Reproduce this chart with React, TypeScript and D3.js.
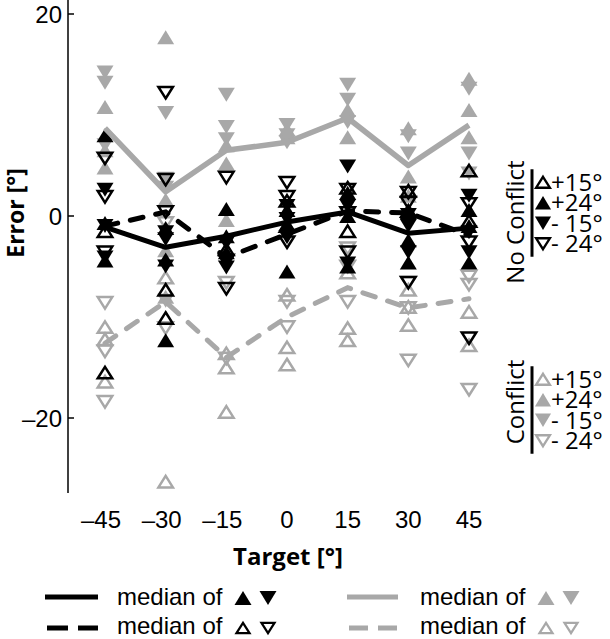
import React from "react";
import * as d3 from "d3";

const targets = [-45, -30, -15, 0, 15, 30, 45];
const yTicks = [-20, 0, 20];

// No conflict (black)
const ncOpenUp = [[-15.5, -1.5], [-7.3, -10.1], [-3.3], [-1.0, 1.5], [2.8, -1.5], [2.5, 0.5], [4.5, -0.5]];
const ncFilledUp = [[8.0, -0.7, -4.4], [-12.3, -4.3, -1.2], [0.7, -2.0, -3.6], [-5.5, -0.8, 0.6], [-5.0, 2.3, 0.0], [-4.6, -2.4, 0.4], [-4.6, -1.0, 0.6]];
const ncFilledDown = [[2.6, -1.0, -4.1], [-1.6, -2.3, -5.0], [-2.7, -5.1, -4.6], [-0.3, -2.1, 1.0], [4.9, -4.7, 1.0], [-3.6, -1.0, 0.1], [2.0, -3.6, -1.6]];
const ncOpenDown = [[5.7, 1.9, -3.6], [12.2, 3.6, 0.4], [3.8, -7.2, -4.4], [3.3, 1.9, -2.6], [2.6, -3.6, 0.3], [2.3, 1.3, -6.6], [-12.1, 1.2, -2.6]];

// Conflict (grey)
const cFilledUp = [[10.8, 6.5, 4.8], [17.7, 1.6, -3.4, -8.0], [7.0, 5.2, -0.4], [7.8, 8.6], [10.5, 7.8], [8.7, 3.9, 2.0], [13.6, 10.5, 7.8]];
const cFilledDown = [[14.2, 13.2, 7.0], [10.2, 3.7, 2.8, -8.4], [12.0, 8.8, 7.6], [9.0, 7.3, 8.0], [13.0, 11.5, 9.3], [7.9, 6.2], [12.6, 6.2, 4.2]];
const cOpenUp = [[-11.0, -12.2, -16.4], [-6.1, -26.3], [-13.6, -15.0, -19.4], [-7.8, -13.0, -14.7], [-5.6, -11.1, -12.3], [-7.3, -10.8, -9.0], [-9.5, -12.8]];
const cOpenDown = [[-8.6, -13.4, -18.4], [-0.7, -11.1], [-6.6, -14.1], [-8.5, -11.0], [-3.2, -8.5, -5.0], [-6.6, -9.1, -14.3], [-6.0, -6.8, -17.2]];

// Medians
const medBlackFilled = [-1.1, -3.1, -2.0, -0.6, 0.4, -1.7, -1.2];
const medBlackOpen = [-1.0, 0.4, -4.1, -1.8, 0.5, 0.3, -1.9];
const medGreyFilled = [8.7, 2.4, 6.5, 7.3, 9.7, 5.0, 9.0];
const medGreyOpen = [-12.6, -8.5, -14.0, -10.0, -7.1, -9.1, -8.2];

const legendRows = ["+15°", "+24°", "- 15°", "- 24°"];

const BLACK = "#000";
const GREY = "#a8a8a8";

function tri(up: boolean, w: number, h: number) {
  const d = up ? 1 : -1;
  return `M0,${(-h / 2) * d}L${w / 2},${(h / 2) * d}L${-w / 2},${(h / 2) * d}Z`;
}

function Marker({ x, y, up, filled, color, scale = 1 }: any) {
  if (filled) {
    return <path transform={`translate(${x},${y})`} d={tri(up, 17 * scale, 14 * scale)} fill={color} />;
  }
  return (
    <path
      transform={`translate(${x},${y})`}
      d={tri(up, 14.5 * scale, 11.5 * scale)}
      fill="none"
      stroke={color}
      strokeWidth={2.5 * scale}
      strokeLinejoin="miter"
    />
  );
}

export default function App() {
  const x = d3.scaleLinear().domain([-45, 45]).range([105, 469]);
  const y = d3.scaleLinear().domain([0, -20]).range([216, 418]);
  const yTop = y.invert(0);
  const yBot = y.invert(493);

  const line = d3
    .line<number>()
    .x((_, i) => x(targets[i]))
    .y((v) => y(v));

  const series = [
    { data: cOpenUp, up: true, filled: false, color: GREY },
    { data: cOpenDown, up: false, filled: false, color: GREY },
    { data: cFilledUp, up: true, filled: true, color: GREY },
    { data: cFilledDown, up: false, filled: true, color: GREY },
    { data: ncOpenUp, up: true, filled: false, color: BLACK },
    { data: ncOpenDown, up: false, filled: false, color: BLACK },
    { data: ncFilledUp, up: true, filled: true, color: BLACK },
    { data: ncFilledDown, up: false, filled: true, color: BLACK },
  ];

  const legendKinds = [
    { up: true, filled: false },
    { up: true, filled: true },
    { up: false, filled: true },
    { up: false, filled: false },
  ];

  const sans = "'Liberation Sans', Arial, sans-serif";
  const myriad = "'Open Sans', 'Noto Sans', sans-serif";

  const legendBlock = (title: string, color: string, cy: number, titleCy: number, key: string) => {
    const rowGap = 20.5;
    const rows = legendRows.map((r, i) => cy + (i - 1.5) * rowGap);
    return (
      <g key={key}>
        <text
          transform={`translate(524,${titleCy}) rotate(-90)`}
          textAnchor="middle"
          fontFamily={myriad}
          fontSize={24}
          fill="#000"
        >
          {title}
        </text>
        <line x1={532} x2={532} y1={rows[0] - 13} y2={rows[3] + 13} stroke="#000" strokeWidth={3} />
        {legendKinds.map((k, i) => (
          <g key={i}>
            <Marker x={543} y={rows[i]} up={k.up} filled={k.filled} color={color} scale={0.95} />
            <text x={551} y={rows[i] + 8.5} fontFamily={myriad} fontSize={24} fill="#000">
              {legendRows[i]}
            </text>
          </g>
        ))}
      </g>
    );
  };

  return (
    <svg
      width={610}
      height={639}
      style={{ position: "absolute", left: 0, top: 0, background: "#fff" }}
    >
      <rect width={610} height={639} fill="#fff" />
      {/* y axis */}
      <line x1={68} x2={68} y1={y(yTop)} y2={y(yBot)} stroke="#000" strokeWidth={1.5} />
      {yTicks.map((t) => (
        <g key={t}>
          <line x1={68} x2={74} y1={y(t)} y2={y(t)} stroke="#000" strokeWidth={1.5} />
          <text x={62} y={y(t) + 8.5} textAnchor="end" fontFamily={sans} fontSize={24} fill="#000">
            {t < 0 ? `–${Math.abs(t)}` : `${t}`}
          </text>
        </g>
      ))}
      {targets.map((t) => (
        <text key={t} x={x(t) - (t < 0 ? 4 : 0)} y={528} textAnchor="middle" fontFamily={sans} fontSize={24} fill="#000">
          {t < 0 ? `–${Math.abs(t)}` : `${t}`}
        </text>
      ))}
      <text x={288} y={565} textAnchor="middle" fontFamily={myriad} fontWeight="bold" fontSize={24} fill="#000">
        Target [°]
      </text>
      <text
        transform={`translate(24,213) rotate(-90)`}
        textAnchor="middle"
        fontFamily={myriad}
        fontWeight="bold"
        fontSize={23}
        fill="#000"
      >
        Error [°]
      </text>

      {/* markers */}
      {series.map((s, si) => (
        <g key={si}>
          {s.data.map((vals, ti) =>
            vals.map((v, vi) => (
              <Marker key={`${ti}-${vi}`} x={x(targets[ti])} y={y(v)} up={s.up} filled={s.filled} color={s.color} />
            ))
          )}
        </g>
      ))}

      {/* median lines */}
      <path d={line(medGreyOpen) || ""} fill="none" stroke={GREY} strokeWidth={5} strokeDasharray="13 13" strokeLinecap="round" />
      <path d={line(medGreyFilled) || ""} fill="none" stroke={GREY} strokeWidth={5.5} strokeLinejoin="round" />
      <path d={line(medBlackOpen) || ""} fill="none" stroke={BLACK} strokeWidth={5} strokeDasharray="13 13" strokeLinecap="round" />
      <path d={line(medBlackFilled) || ""} fill="none" stroke={BLACK} strokeWidth={5} strokeLinejoin="round" />

      {/* right legend */}
      {legendBlock("No Conflict", BLACK, 213, 222, "nc")}
      {legendBlock("Conflict", GREY, 410, 402, "c")}

      {/* bottom legend */}
      <g>
        <line x1={45} x2={98} y1={597} y2={597} stroke={BLACK} strokeWidth={5} />
        <text x={117} y={605} fontFamily={sans} fontSize={24} fill="#000">median of</text>
        <Marker x={243} y={598} up={true} filled={true} color={BLACK} />
        <Marker x={268} y={598} up={false} filled={true} color={BLACK} />

        <line x1={47} x2={98} y1={628} y2={628} stroke={BLACK} strokeWidth={5} strokeDasharray="21 10" />
        <text x={117} y={634} fontFamily={sans} fontSize={24} fill="#000">median of</text>
        <Marker x={243} y={628} up={true} filled={false} color={BLACK} scale={0.9} />
        <Marker x={268} y={628} up={false} filled={false} color={BLACK} scale={0.9} />

        <line x1={347} x2={398} y1={597} y2={597} stroke={GREY} strokeWidth={5} />
        <text x={420} y={605} fontFamily={sans} fontSize={24} fill="#000">median of</text>
        <Marker x={546} y={598} up={true} filled={true} color={GREY} />
        <Marker x={571} y={598} up={false} filled={true} color={GREY} />

        <line x1={349} x2={398} y1={628} y2={628} stroke={GREY} strokeWidth={5} strokeDasharray="19 10" />
        <text x={420} y={634} fontFamily={sans} fontSize={24} fill="#000">median of</text>
        <Marker x={546} y={628} up={true} filled={false} color={GREY} scale={0.9} />
        <Marker x={571} y={628} up={false} filled={false} color={GREY} scale={0.9} />
      </g>
    </svg>
  );
}
